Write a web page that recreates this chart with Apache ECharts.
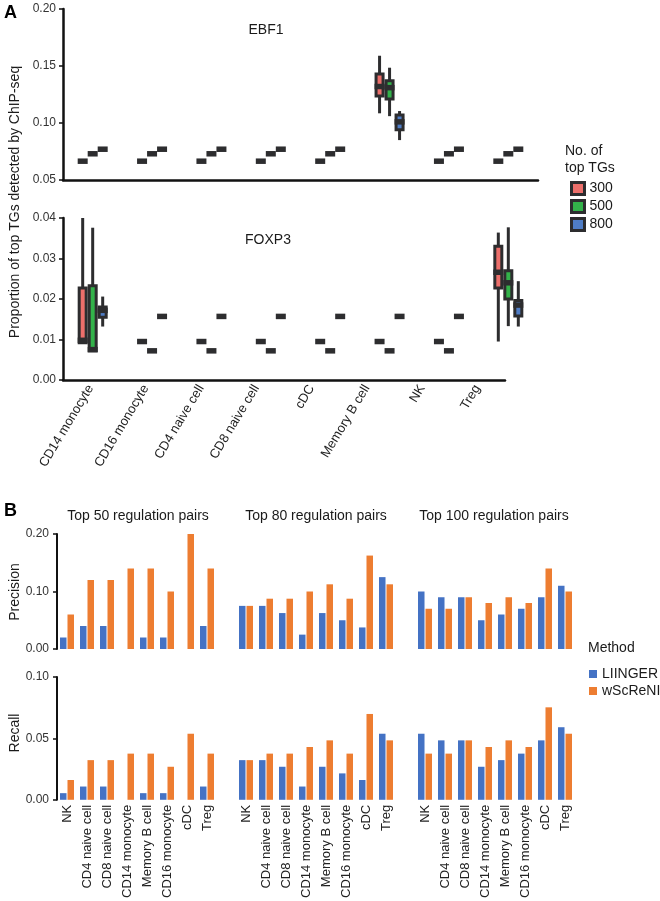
<!DOCTYPE html>
<html>
<head>
<meta charset="utf-8">
<script src="https://cdn.jsdelivr.net/npm/echarts@6/dist/echarts.min.js"></script>
<style>
html, body { margin: 0; padding: 0; background: #fff; }
#chart { width: 660px; height: 901px; }
</style>
</head>
<body>
<div id="chart"></div>
<script>
// ---- panel A data: [min, Q1, median, Q3, max] per cell type ----
const cellTypesA = ['CD14 monocyte', 'CD16 monocyte', 'CD4 naive cell', 'CD8 naive cell', 'cDC', 'Memory B cell', 'NK', 'Treg']
const tgCounts = ['300', '500', '800']

const ebf1Top300 = [
  [0.0665, 0.0665, 0.0665, 0.0665, 0.0665], [0.0665, 0.0665, 0.0665, 0.0665, 0.0665],
  [0.0665, 0.0665, 0.0665, 0.0665, 0.0665], [0.0665, 0.0665, 0.0665, 0.0665, 0.0665],
  [0.0665, 0.0665, 0.0665, 0.0665, 0.0665], [0.1085, 0.1237, 0.1320, 0.1430, 0.1590],
  [0.0665, 0.0665, 0.0665, 0.0665, 0.0665], [0.0665, 0.0665, 0.0665, 0.0665, 0.0665]
]
const ebf1Top500 = [
  [0.073, 0.073, 0.073, 0.073, 0.073], [0.073, 0.073, 0.073, 0.073, 0.073],
  [0.073, 0.073, 0.073, 0.073, 0.073], [0.073, 0.073, 0.073, 0.073, 0.073],
  [0.073, 0.073, 0.073, 0.073, 0.073], [0.1060, 0.1210, 0.1310, 0.1370, 0.1485],
  [0.073, 0.073, 0.073, 0.073, 0.073], [0.073, 0.073, 0.073, 0.073, 0.073]
]
const ebf1Top800 = [
  [0.077, 0.077, 0.077, 0.077, 0.077], [0.077, 0.077, 0.077, 0.077, 0.077],
  [0.077, 0.077, 0.077, 0.077, 0.077], [0.077, 0.077, 0.077, 0.077, 0.077],
  [0.077, 0.077, 0.077, 0.077, 0.077], [0.0850, 0.0940, 0.1010, 0.1070, 0.1105],
  [0.077, 0.077, 0.077, 0.077, 0.077], [0.077, 0.077, 0.077, 0.077, 0.077]
]
const foxp3Top300 = [
  [0.0090, 0.0092, 0.0098, 0.0227, 0.0400], [0.0095, 0.0095, 0.0095, 0.0095, 0.0095],
  [0.0095, 0.0095, 0.0095, 0.0095, 0.0095], [0.0095, 0.0095, 0.0095, 0.0095, 0.0095],
  [0.0095, 0.0095, 0.0095, 0.0095, 0.0095], [0.0095, 0.0095, 0.0095, 0.0095, 0.0095],
  [0.0095, 0.0095, 0.0095, 0.0095, 0.0095], [0.0095, 0.0227, 0.0266, 0.0330, 0.0364]
]
const foxp3Top500 = [
  [0.0070, 0.0072, 0.0075, 0.0233, 0.0376], [0.0072, 0.0072, 0.0072, 0.0072, 0.0072],
  [0.0072, 0.0072, 0.0072, 0.0072, 0.0072], [0.0072, 0.0072, 0.0072, 0.0072, 0.0072],
  [0.0072, 0.0072, 0.0072, 0.0072, 0.0072], [0.0072, 0.0072, 0.0072, 0.0072, 0.0072],
  [0.0072, 0.0072, 0.0072, 0.0072, 0.0072], [0.0133, 0.0200, 0.0240, 0.0270, 0.0377]
]
const foxp3Top800 = [
  [0.0132, 0.0155, 0.0172, 0.0180, 0.0206], [0.0157, 0.0157, 0.0157, 0.0157, 0.0157],
  [0.0157, 0.0157, 0.0157, 0.0157, 0.0157], [0.0157, 0.0157, 0.0157, 0.0157, 0.0157],
  [0.0157, 0.0157, 0.0157, 0.0157, 0.0157], [0.0157, 0.0157, 0.0157, 0.0157, 0.0157],
  [0.0157, 0.0157, 0.0157, 0.0157, 0.0157], [0.0132, 0.0158, 0.0185, 0.0196, 0.0244]
]

// ---- panel B data ----
const cellTypesB = ['NK', 'CD4 naive cell', 'CD8 naive cell', 'CD14 monocyte', 'Memory B cell', 'CD16 monocyte', 'cDC', 'Treg']
const pairTitles = ['Top 50 regulation pairs', 'Top 80 regulation pairs', 'Top 100 regulation pairs']

const precisionLiinger = [
  [0.02, 0.04, 0.04, 0, 0.02, 0.02, 0, 0.04],
  [0.075, 0.075, 0.0625, 0.025, 0.0625, 0.05, 0.0375, 0.125],
  [0.10, 0.09, 0.09, 0.05, 0.06, 0.07, 0.09, 0.11]
]
const precisionWscreni = [
  [0.06, 0.12, 0.12, 0.14, 0.14, 0.10, 0.20, 0.14],
  [0.075, 0.0875, 0.0875, 0.10, 0.1125, 0.0875, 0.1625, 0.1125],
  [0.07, 0.07, 0.09, 0.08, 0.09, 0.08, 0.14, 0.10]
]
const recallLiinger = [
  [0.0054, 0.0108, 0.0108, 0, 0.0054, 0.0054, 0, 0.0108],
  [0.0323, 0.0323, 0.0269, 0.0108, 0.0269, 0.0215, 0.0161, 0.0538],
  [0.0538, 0.0484, 0.0484, 0.0269, 0.0323, 0.0376, 0.0484, 0.0591]
]
const recallWscreni = [
  [0.0161, 0.0323, 0.0323, 0.0376, 0.0376, 0.0269, 0.0538, 0.0376],
  [0.0323, 0.0376, 0.0376, 0.0430, 0.0484, 0.0376, 0.0699, 0.0484],
  [0.0376, 0.0376, 0.0484, 0.0430, 0.0484, 0.0430, 0.0753, 0.0538]
]

// ---- styling ----
const FONT = 'Liberation Sans, Arial, Helvetica, sans-serif'
const DARK = '#2d2d2f'
const AXIS = '#111'
const TG_COLORS = ['#ec6f6b', '#33b24a', '#4f7dc6']
const BOX_OFFSETS = [-10, 0, 10]
const BLUE = '#4472c4'
const ORANGE = '#ed7d31'

function boxRenderer(offset) {
  return function (params, api) {
    const cat = api.value(0)
    const x = api.coord([cat, api.value(3)])[0] + offset
    const yLo = api.coord([cat, api.value(1)])[1]
    const yQ1 = api.coord([cat, api.value(2)])[1]
    const yMed = api.coord([cat, api.value(3)])[1]
    const yQ3 = api.coord([cat, api.value(4)])[1]
    const yHi = api.coord([cat, api.value(5)])[1]
    const w = 7
    return {
      type: 'group',
      children: [
        { type: 'line', shape: { x1: x, y1: yHi, x2: x, y2: yLo }, style: { stroke: DARK, lineWidth: 3 } },
        { type: 'rect', shape: { x: x - w / 2, y: yQ3, width: w, height: yQ1 - yQ3 },
          style: { fill: api.visual('color'), stroke: DARK, lineWidth: 3 } },
        { type: 'rect', shape: { x: x - w / 2 - 1.5, y: yMed - 2.75, width: w + 3, height: 5.5 }, style: { fill: DARK } }
      ]
    }
  }
}

const yTick = { show: true, length: 4, lineStyle: { color: AXIS, width: 1.5 } }
const yLine = { show: true, lineStyle: { color: AXIS, width: 2.5 } }
const yLabel = { fontSize: 12, color: '#333', fontFamily: FONT, margin: 7, formatter: v => v.toFixed(2) }

const grids = [
  { left: 63, top: 9, width: 475, height: 171 },
  { left: 63, top: 218, width: 475, height: 162 },
  { left: 63, top: 218, width: 442, height: 162 }
]
const xAxes = [
  { gridIndex: 0, type: 'category', data: cellTypesA, axisLine: { lineStyle: { color: AXIS, width: 2.5 } },
    axisTick: { show: false }, axisLabel: { show: false } },
  { gridIndex: 1, type: 'category', data: cellTypesA, show: false },
  { gridIndex: 2, type: 'category', data: cellTypesA, axisLine: { lineStyle: { color: AXIS, width: 2.5 } },
    axisTick: { alignWithLabel: true, length: 3, lineStyle: { color: AXIS, width: 1.5 } },
    axisLabel: { rotate: 59, fontSize: 13, color: '#222', fontFamily: FONT, margin: 6, interval: 0 } }
]
const yAxes = [
  { gridIndex: 0, type: 'value', min: 0.05, max: 0.20, interval: 0.05, axisLine: yLine, axisTick: yTick,
    axisLabel: yLabel, splitLine: { show: false } },
  { gridIndex: 1, type: 'value', min: 0, max: 0.04, interval: 0.01, axisLine: yLine, axisTick: yTick,
    axisLabel: yLabel, splitLine: { show: false } },
  { gridIndex: 2, type: 'value', min: 0, max: 0.04, show: false }
]
const series = []

const ebf1 = [ebf1Top300, ebf1Top500, ebf1Top800]
const foxp3 = [foxp3Top300, foxp3Top500, foxp3Top800]
;[ebf1, foxp3].forEach((panel, gi) => {
  panel.forEach((rows, k) => {
    series.push({
      type: 'custom',
      name: tgCounts[k],
      xAxisIndex: gi,
      yAxisIndex: gi,
      itemStyle: { color: TG_COLORS[k] },
      renderItem: boxRenderer(BOX_OFFSETS[k]),
      encode: { x: 0, y: [1, 2, 3, 4, 5] },
      data: rows.map((r, i) => [i].concat(r)),
      z: 10 + k
    })
  })
})

// panel B grids: precision row then recall row
const groupLefts = [57, 236, 415]
const rowsB = [
  { top: 534, height: 115, max: 0.20, interval: 0.10, liinger: precisionLiinger, wscreni: precisionWscreni, labels: false },
  { top: 677, height: 123, max: 0.10, interval: 0.05, liinger: recallLiinger, wscreni: recallWscreni, labels: true }
]
rowsB.forEach(row => {
  groupLefts.forEach((left, g) => {
    const idx = grids.length
    grids.push({ left: left, top: row.top, width: 160, height: row.height })
    xAxes.push({
      gridIndex: idx, type: 'category', data: cellTypesB,
      axisLine: { show: false }, axisTick: { show: false },
      axisLabel: { show: row.labels, rotate: 90, interval: 0, fontSize: 13, color: '#222', fontFamily: FONT, margin: 5 }
    })
    yAxes.push({
      gridIndex: idx, type: 'value', min: 0, max: row.max, interval: row.interval, show: g === 0,
      axisLine: { show: true, lineStyle: { color: AXIS, width: 2 } }, axisTick: yTick,
      axisLabel: Object.assign({}, yLabel, { margin: 8 }), splitLine: { show: false }
    })
    series.push({
      type: 'bar', name: 'LIINGER', xAxisIndex: idx, yAxisIndex: idx,
      data: row.liinger[g], barWidth: 6.5, barGap: '15%', itemStyle: { color: BLUE }
    })
    series.push({
      type: 'bar', name: 'wScReNI', xAxisIndex: idx, yAxisIndex: idx,
      data: row.wscreni[g], barWidth: 6.5, barGap: '15%', itemStyle: { color: ORANGE }
    })
  })
})

function label(text, x, y, opts) {
  opts = opts || {}
  return {
    type: 'text', x: x, y: y, rotation: opts.rotation || 0,
    style: {
      text: text, fill: opts.fill || '#1a1a1a', fontSize: opts.size || 14, fontFamily: FONT,
      fontWeight: opts.weight || 'normal', align: opts.align || 'center', verticalAlign: 'middle'
    }
  }
}

const graphics = [
  label('A', 4, 13, { weight: 'bold', size: 18, align: 'left', fill: '#000' }),
  label('B', 4, 511, { weight: 'bold', size: 18, align: 'left', fill: '#000' }),
  label('EBF1', 266, 30),
  label('FOXP3', 268, 240),
  label('Proportion of top TGs detected by ChIP-seq', 15, 202, { rotation: Math.PI / 2 }),
  label('No. of', 565, 151, { align: 'left' }),
  label('top TGs', 565, 168, { align: 'left' }),
  label('Precision', 15, 592, { rotation: Math.PI / 2 }),
  label('Recall', 15, 733, { rotation: Math.PI / 2 }),
  label('Method', 588, 648, { align: 'left' })
]
pairTitles.forEach((t, g) => {
  graphics.push(label(t, [138, 316, 494][g], 516))
})

const chart = echarts.init(document.getElementById('chart'), null, { renderer: 'canvas' })
chart.setOption({
  animation: false,
  backgroundColor: '#fff',
  textStyle: { fontFamily: FONT },
  grid: grids,
  xAxis: xAxes,
  yAxis: yAxes,
  legend: [
    {
      data: tgCounts.map((n, k) => ({ name: n, itemStyle: { color: TG_COLORS[k], borderColor: DARK, borderWidth: 3 } })),
      left: 565, top: 176, orient: 'vertical', icon: 'rect', itemWidth: 13, itemHeight: 12, itemGap: 3,
      selectedMode: false, textStyle: { fontSize: 14, color: '#1a1a1a', fontFamily: FONT }
    },
    {
      data: ['LIINGER', 'wScReNI'],
      left: 584, top: 662, orient: 'vertical', icon: 'rect', itemWidth: 8, itemHeight: 8, itemGap: 3,
      selectedMode: false, textStyle: { fontSize: 14, color: '#1a1a1a', fontFamily: FONT }
    }
  ],
  graphic: graphics,
  series: series
})
</script>
</body>
</html>
